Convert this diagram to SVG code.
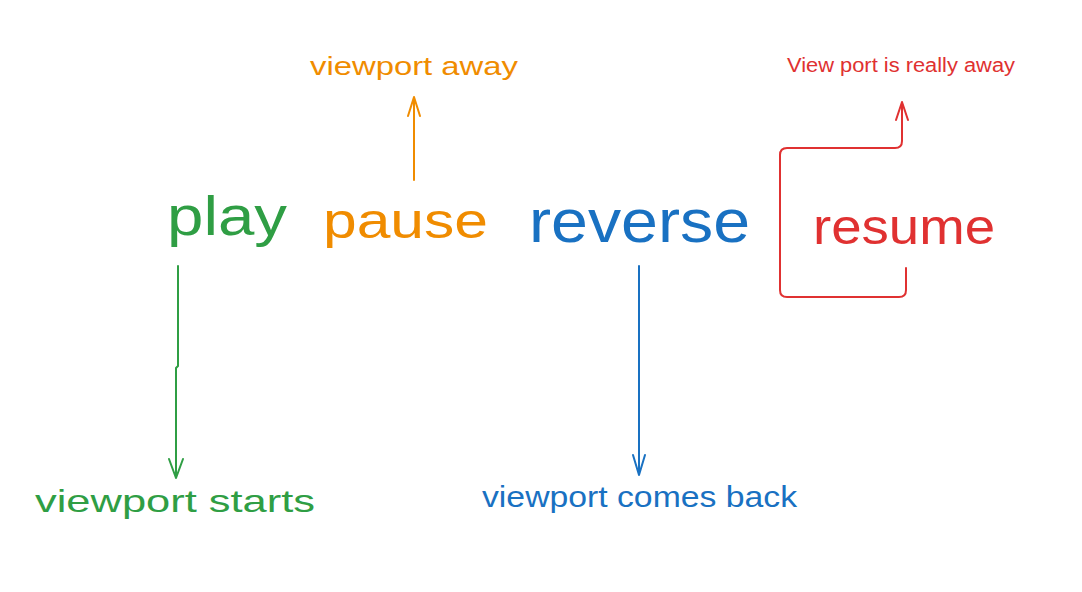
<svg xmlns="http://www.w3.org/2000/svg" width="1082" height="592" viewBox="0 0 1082 592">
<style>
text{font-family:"Liberation Sans","Noto Sans",sans-serif}
.g{fill:#2f9e44}.o{fill:#f08c00}.b{fill:#1971c2}.r{fill:#e03131}
.ln{fill:none;stroke-width:2;stroke-linecap:round;stroke-linejoin:round}
.sg{stroke:#2f9e44}.so{stroke:#f08c00}.sb{stroke:#1971c2}.sr{stroke:#e03131}
</style>
<rect width="1082" height="592" fill="#ffffff"/>
<g id="play"><text class="g" x="167" y="235" font-size="56" textLength="120" lengthAdjust="spacingAndGlyphs">play</text></g>
<g id="pause"><text class="o" x="323" y="238" font-size="50" textLength="165" lengthAdjust="spacingAndGlyphs">pause</text></g>
<g id="reverse"><text class="b" x="529" y="242" font-size="61" textLength="221" lengthAdjust="spacingAndGlyphs">reverse</text></g>
<g id="resume"><text class="r" x="813" y="244" font-size="50" textLength="182" lengthAdjust="spacingAndGlyphs">resume</text></g>
<g id="viewport-away"><text class="o" x="310" y="75" font-size="26" textLength="208" lengthAdjust="spacingAndGlyphs">viewport away</text></g>
<g id="view-port-really-away"><text class="r" x="787" y="72" font-size="20" textLength="228" lengthAdjust="spacingAndGlyphs">View port is really away</text></g>
<g id="viewport-starts"><text class="g" x="35" y="512" font-size="32" textLength="280" lengthAdjust="spacingAndGlyphs">viewport starts</text></g>
<g id="viewport-comes-back"><text class="b" x="482" y="507" font-size="30" textLength="315" lengthAdjust="spacingAndGlyphs">viewport comes back</text></g>
<g id="connectors">
<path class="ln sg" d="M178 266 L178 366 L176 368 L176 478 M169 459 L176 478 L183 459"/>
<path class="ln so" d="M414 180 L414 97 M408 116 L414 97 L420 116"/>
<path class="ln sb" d="M639 266 L639 475 M633 455 L639 475 L645 455"/>
<path class="ln sr" d="M906 268 L906 290 Q906 297 899 297 L787 297 Q780 297 780 290 L780 155 Q780 148 787 148 L895 148 Q902 148 902 141 L902 102 M896 120 L902 102 L908 120"/>
</g>
</svg>
